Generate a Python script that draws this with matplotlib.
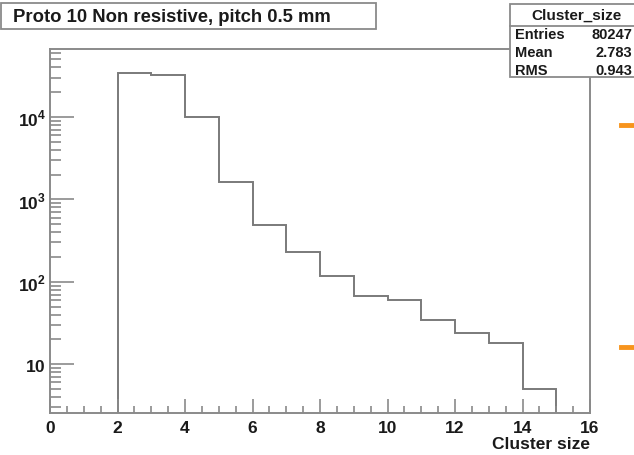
import numpy as np
import matplotlib
matplotlib.use("Agg")
import matplotlib.pyplot as plt
from matplotlib.lines import Line2D
from matplotlib.patches import Rectangle
from matplotlib.ticker import FixedLocator, FixedFormatter, MultipleLocator

plt.rcParams['font.family'] = ['Liberation Sans', 'DejaVu Sans']
plt.rcParams['font.weight'] = 'bold'
plt.rcParams['mathtext.fontset'] = 'custom'
plt.rcParams['mathtext.rm'] = 'Liberation Sans:bold'
plt.rcParams['mathtext.bf'] = 'Liberation Sans:bold'

# histogram data (cluster size, unit bins)
bin_edges = [2, 3, 4, 5, 6, 7, 8, 9, 10, 11, 12, 13, 14, 15]
counts = [34700, 32500, 9950, 1630, 490, 232, 116, 67, 60, 34, 24, 18, 5]

title = "Proto 10 Non resistive, pitch 0.5 mm"
stat_name = "Cluster_size"
stat_labels = ["Entries", "Mean", "RMS"]
stat_values = ["80247", "2.783", "0.943"]

y_ticks = [10, 100, 1000, 10000]
y_ticklabels = [r"$10$", r"$10^{2}$", r"$10^{3}$", r"$10^{4}$"]

frame_col = "#8a8a8a"
hist_col = "#7a7a7a"
txt_col = "#1a1a1a"

fig = plt.figure(figsize=(6.34, 4.56), dpi=100)
ax = fig.add_axes([50 / 634, 1 - 414 / 456, 540 / 634, 364 / 456])

ax.stairs(counts, bin_edges, baseline=1e-3, color=hist_col, linewidth=1.4)

ax.set_yscale("log")
ax.set_xlim(0, 16)
ax.set_ylim(2.55, 67000)

ax.xaxis.set_major_locator(MultipleLocator(2))
ax.xaxis.set_minor_locator(MultipleLocator(0.5))
ax.yaxis.set_major_locator(FixedLocator(y_ticks))
ax.yaxis.set_major_formatter(FixedFormatter(y_ticklabels))
minors = [m * 10 ** e for e in range(0, 5) for m in range(2, 10)]
ax.yaxis.set_minor_locator(FixedLocator(minors))
ax.yaxis.set_minor_formatter(FixedFormatter([]))

ax.tick_params(axis="x", which="major", direction="in", length=10, width=1.2,
               color=frame_col, labelsize=12.5, labelcolor=txt_col, pad=5)
ax.tick_params(axis="x", which="minor", direction="in", length=5, width=1.2,
               color=frame_col)
ax.tick_params(axis="y", which="major", direction="in", length=17, width=1.2,
               color=frame_col, labelsize=12.5, labelcolor=txt_col, pad=3)
ax.tick_params(axis="y", which="minor", direction="in", length=8, width=1.2,
               color=frame_col)
for lab in ax.get_xticklabels() + ax.get_yticklabels():
    lab.set_fontweight("bold")

for s in ax.spines.values():
    s.set_color(frame_col)
    s.set_linewidth(1.4)

ax.set_xlabel("Cluster size", fontsize=12.5, fontweight="bold", color=txt_col,
              loc="right", labelpad=1)

# title box
fig.patches.append(Rectangle((1 / 634, 1 - 30 / 456), 375 / 634, 26 / 456,
                             transform=fig.transFigure, fill=False,
                             edgecolor=frame_col, linewidth=1.3))
fig.text(13 / 634, 1 - 18 / 456, title, fontsize=13.3, fontweight="bold",
         color=txt_col, va="center", ha="left")

# stats box
bx0, by_top, by_bot = 510 / 634, 1 - 5 / 456, 1 - 78 / 456
stat_box = Rectangle((bx0, by_bot), 130 / 634, by_top - by_bot,
                     transform=fig.transFigure, facecolor="white",
                     edgecolor=frame_col, linewidth=1.3, zorder=5)
fig.patches.append(stat_box)
fig.lines.append(Line2D([bx0, 1], [1 - 27 / 456] * 2, transform=fig.transFigure,
                        color=frame_col, linewidth=1.3, zorder=6))
fig.text(576 / 634, 1 - 16 / 456, stat_name, fontsize=11, fontweight="bold",
         color=txt_col, ha="center", va="center", zorder=7)
row_y = [35, 53, 71]
for lab, val, yy in zip(stat_labels, stat_values, row_y):
    fig.text(515 / 634, 1 - yy / 456, lab, fontsize=10.5, fontweight="bold",
             color=txt_col, ha="left", va="center", zorder=7)
    fig.text(632 / 634, 1 - yy / 456, val, fontsize=10.5, fontweight="bold",
             color=txt_col, ha="right", va="center", zorder=7)

# orange marks at the right edge
for yy in [126, 348]:
    fig.lines.append(Line2D([621 / 634, 1], [1 - yy / 456] * 2,
                            transform=fig.transFigure, color="#f7941d",
                            linewidth=3.5))

fig.savefig("out.png", dpi=100, facecolor="white")
